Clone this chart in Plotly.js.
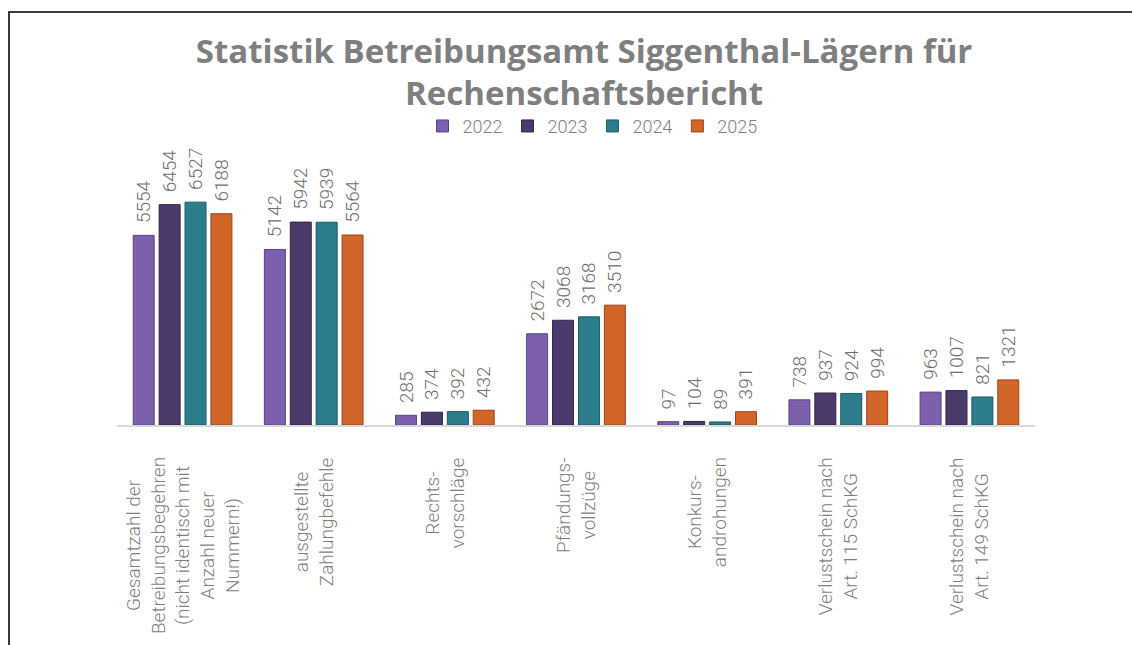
<!DOCTYPE html>
<html>
<head>
<meta charset="utf-8">
<script src="https://cdn.plot.ly/plotly-3.0.1.min.js"></script>
<style>
  html, body { margin: 0; padding: 0; width: 1132px; height: 645px; overflow: hidden; background: #ffffff; }
  #frame { position: absolute; left: 8px; top: 11px; width: 1300px; height: 800px; border-left: 2px solid #3c3c3c; border-top: 2px solid #3c3c3c; }
  #chart { position: absolute; left: 0; top: 0; width: 1132px; height: 645px; }
</style>
</head>
<body>
<div id="frame"></div>
<div id="chart"></div>
<script>
const categories = [
  "Gesamtzahl der<br>Betreibungsbegehren<br>(nicht identisch mit<br>Anzahl neuer<br>Nummern!)",
  "ausgestellte<br>Zahlungbefehle",
  "Rechts-<br>vorschläge",
  "Pfändungs-<br>vollzüge",
  "Konkurs-<br>androhungen",
  "Verlustschein nach<br>Art. 115 SchKG",
  "Verlustschein nach<br>Art. 149 SchKG"
];
const seriesNames = ["2022", "2023", "2024", "2025"];
const values2022 = [5554, 5142, 285, 2672, 97, 738, 963];
const values2023 = [6454, 5942, 374, 3068, 104, 937, 1007];
const values2024 = [6527, 5939, 392, 3168, 89, 924, 821];
const values2025 = [6188, 5564, 432, 3510, 391, 994, 1321];
const seriesColors = ["#7c60ad", "#4a3b6c", "#2c7d8c", "#d2652a"];
const seriesLines = ["#5a4284", "#2f2449", "#1c5966", "#9c4517"];

const allValues = [values2022, values2023, values2024, values2025];
const gray = "#7f7f7f";

const traces = allValues.map((vals, i) => ({
  type: "bar",
  name: seriesNames[i],
  x: categories,
  y: vals,
  marker: { color: seriesColors[i], line: { color: seriesLines[i], width: 1 } },
  texttemplate: "\u00a0\u00a0%{y}",
  textposition: "outside",
  textangle: -90,
  constraintext: "none",
  cliponaxis: false,
  textfont: { family: "Roboto, sans-serif", size: 19, color: "#6f6f6f", weight: 300 },
  hoverinfo: "x+y+name"
}));

const annotations = categories.map(c => ({
  x: c, xref: "x",
  y: 0, yref: "paper",
  yanchor: "top", xanchor: "center",
  yshift: -30,
  text: c,
  textangle: -90,
  align: "center",
  showarrow: false,
  font: { family: "Roboto, sans-serif", size: 19, color: gray, weight: 300 }
}));

const layout = {
  width: 1132,
  height: 645,
  paper_bgcolor: "rgba(0,0,0,0)",
  plot_bgcolor: "rgba(0,0,0,0)",
  margin: { l: 117, r: 97, t: 186, b: 220 },
  barmode: "group",
  bargap: 0.21,
  bargroupgap: 0.19,
  title: {
    text: "Statistik Betreibungsamt Siggenthal-Lägern für<br>Rechenschaftsbericht",
    font: { family: "'Open Sans', sans-serif", size: 33, color: gray, weight: 700 },
    x: 0.516, xref: "container", xanchor: "center",
    y: 0.903, yref: "container", yanchor: "top"
  },
  showlegend: true,
  legend: {
    orientation: "h",
    x: 0.518, xanchor: "center",
    y: 1.25, yanchor: "middle",
    font: { family: "Roboto, sans-serif", size: 18, color: gray, weight: 300 },
    itemclick: false
  },
  xaxis: {
    type: "category",
    showticklabels: false,
    showline: true,
    linecolor: "#d9d9d9",
    linewidth: 2,
    ticks: "",
    showgrid: false,
    zeroline: false
  },
  yaxis: {
    range: [0, 7000],
    showticklabels: false,
    showgrid: false,
    zeroline: false,
    showline: false,
    ticks: ""
  },
  annotations: annotations
};

Plotly.newPlot("chart", traces, layout, { displayModeBar: false, staticPlot: true });
</script>
</body>
</html>
